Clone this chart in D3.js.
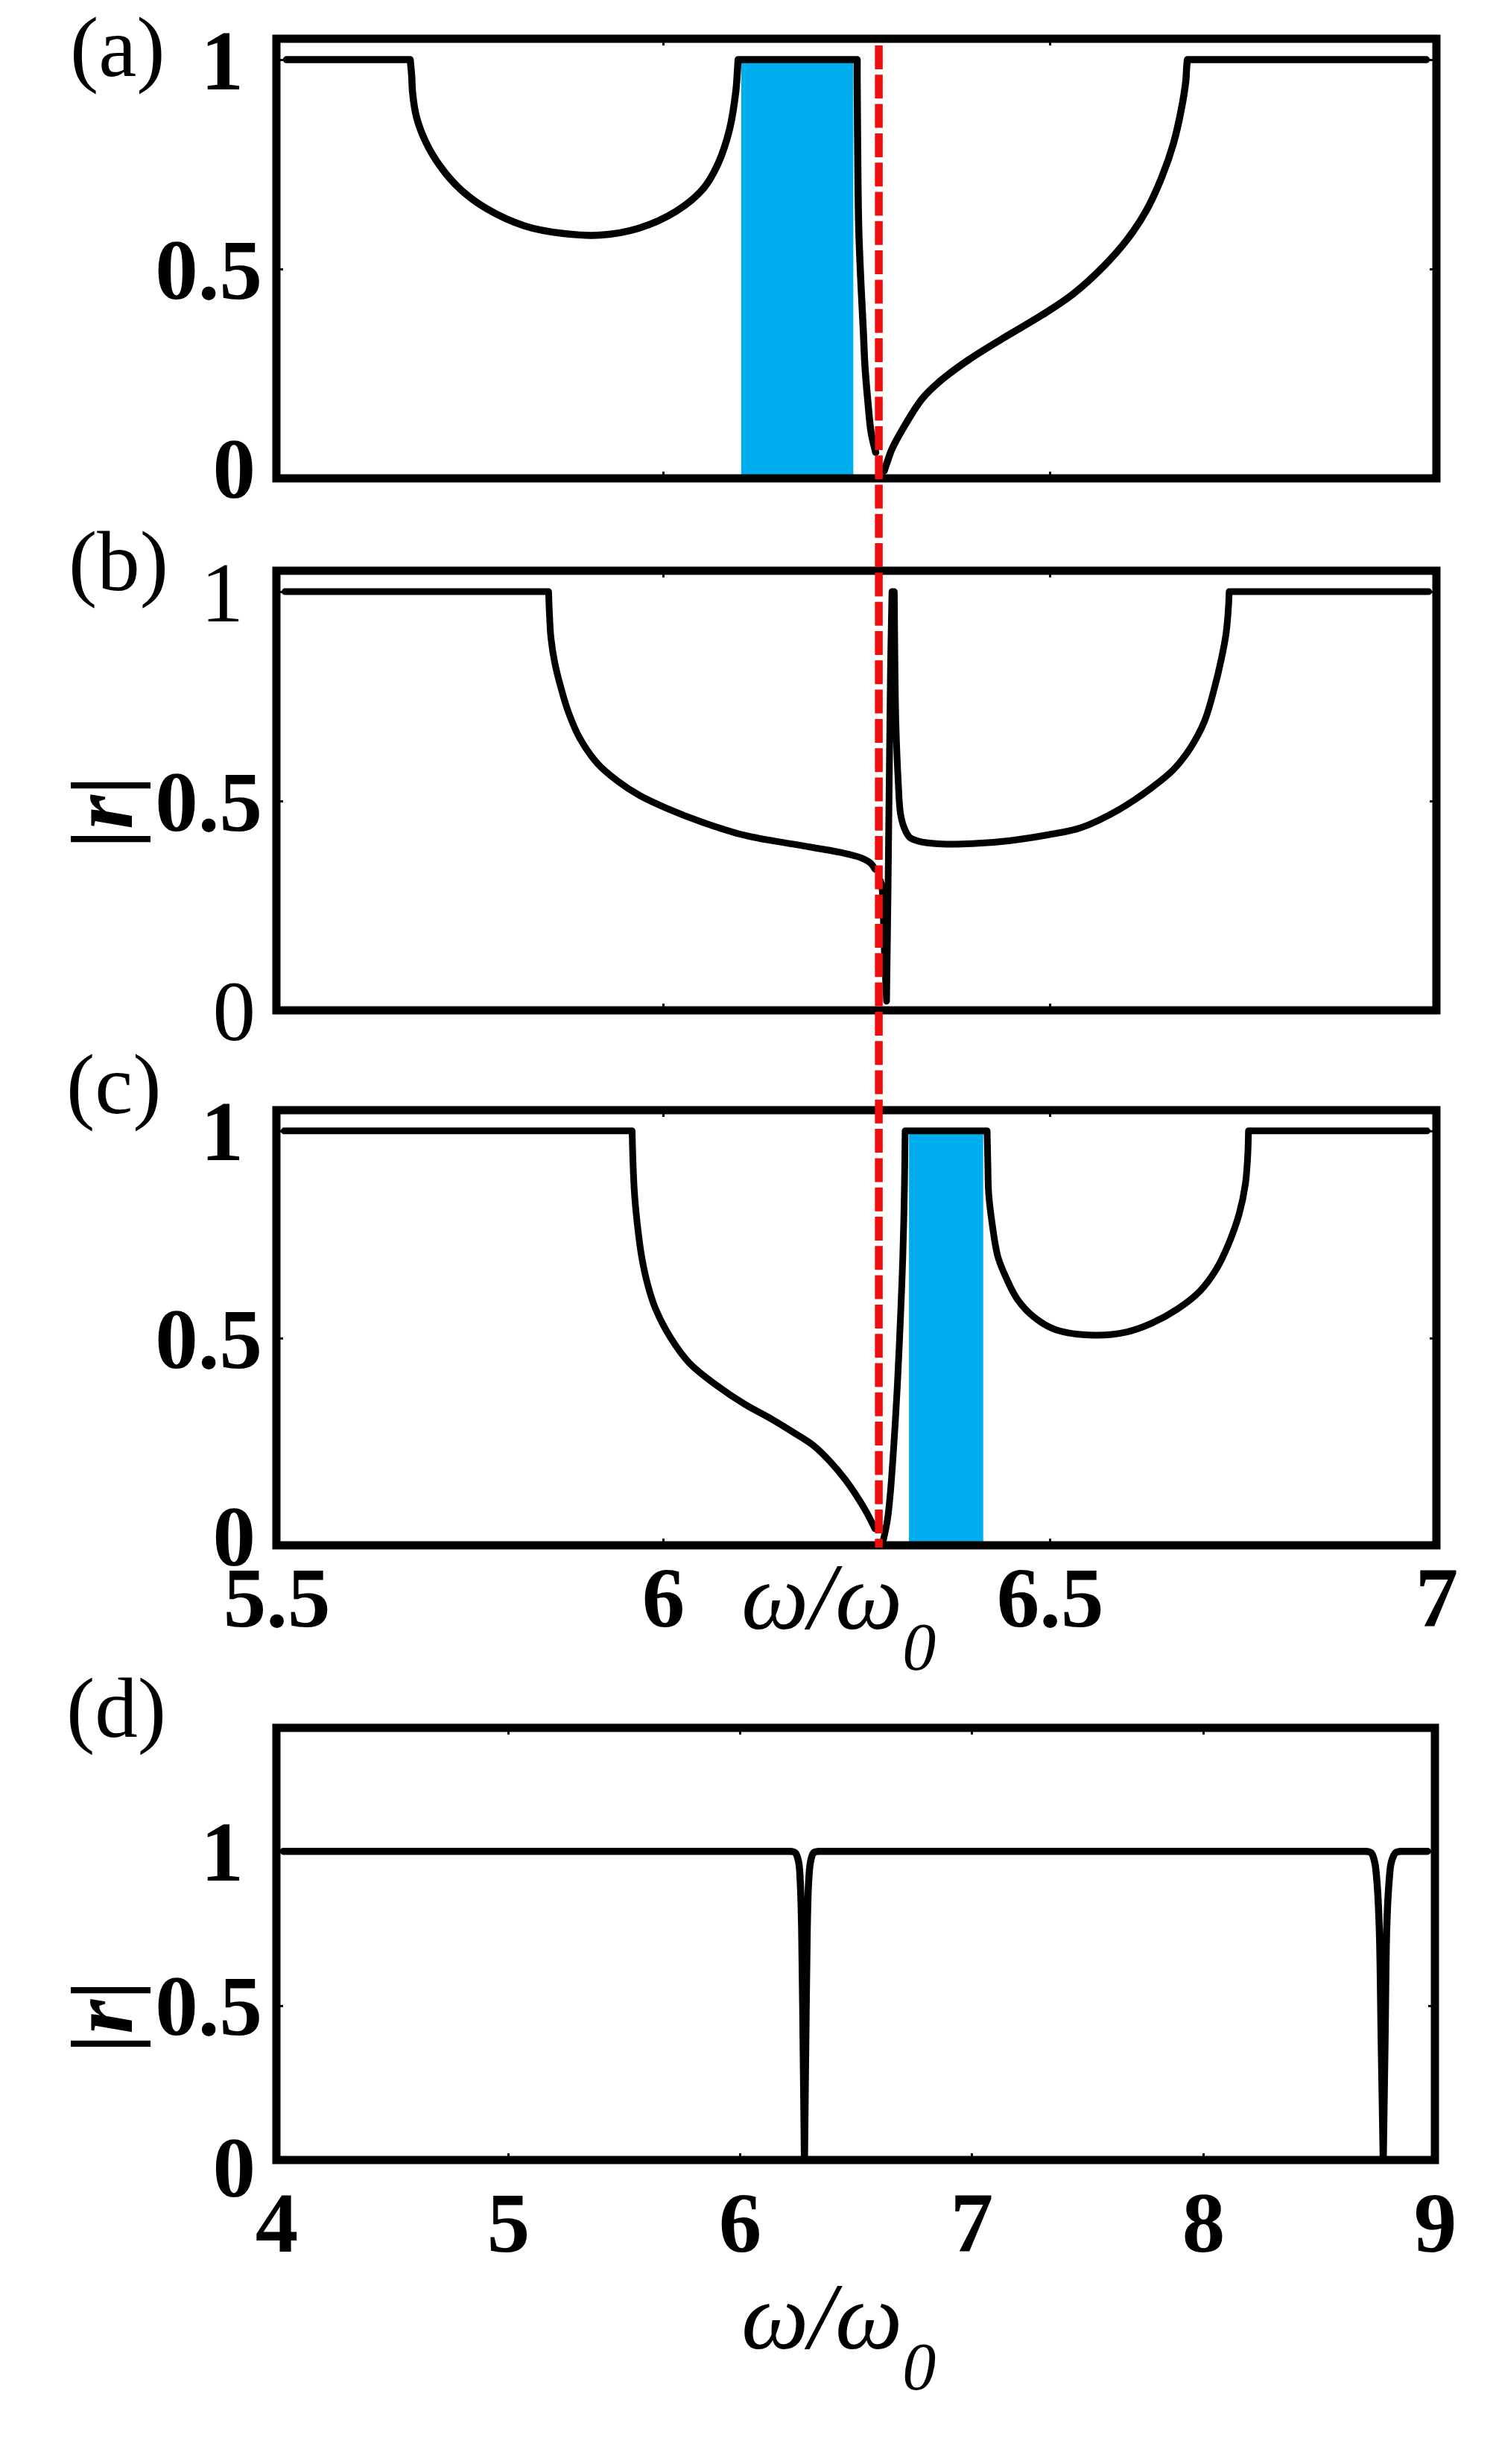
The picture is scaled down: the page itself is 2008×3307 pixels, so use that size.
<!DOCTYPE html>
<html><head><meta charset="utf-8">
<script src="https://cdn.jsdelivr.net/npm/d3@7"></script>
<style>html,body{margin:0;padding:0;background:#fff;} svg{display:block;}</style>
</head><body>
<svg id="chart" width="2008" height="3307"></svg>
<script>
// ---------------- DATA ----------------
const xTicksZoom = [5.5, 6, 6.5, 7];
const xTicksWide = [4, 5, 6, 7, 8, 9];
const yTicks = [0, 0.5, 1];
const yTickText = {0: "0", 0.5: "0.5", 1: "1"};

// panel (a) |r| vs w/w0
const curveA1 = [[5.513,1],[5.673,1],[5.675,0.96],[5.676,0.923],[5.681,0.864],[5.693,0.804],[5.712,0.745],[5.737,0.692],[5.772,0.644],[5.821,0.603],[5.870,0.585],[5.919,0.581],[5.968,0.597],[6.017,0.638],[6.052,0.692],[6.071,0.751],[6.086,0.834],[6.094,0.923],[6.096,0.97],[6.097,1],[6.251,1],[6.251,0.95],[6.2515,0.82],[6.253,0.6],[6.256,0.46],[6.259,0.35],[6.261,0.27],[6.265,0.18],[6.269,0.11],[6.275,0.062]];
const curveA2 = [[6.286,0.018],[6.291,0.045],[6.296,0.07],[6.31,0.118],[6.335,0.19],[6.36,0.235],[6.395,0.283],[6.44,0.335],[6.49,0.39],[6.53,0.44],[6.57,0.507],[6.60,0.57],[6.625,0.64],[6.645,0.72],[6.66,0.80],[6.67,0.88],[6.676,0.95],[6.677,0.98],[6.678,1],[6.987,1]];
const bandA = [6.101, 6.246];

// panel (b)
const curveB1 = [[5.511,1],[5.852,1],[5.853,0.95],[5.855,0.89],[5.86,0.83],[5.868,0.77],[5.878,0.71],[5.892,0.651],[5.915,0.59],[5.941,0.548],[5.97,0.513],[6.003,0.484],[6.05,0.45],[6.106,0.418],[6.168,0.397],[6.23,0.377],[6.255,0.365],[6.268,0.352],[6.274,0.337]];
const curveB2 = [[6.281,0.31],[6.283,0.295],[6.286,0.15],[6.289,0.022],[6.291,0.30],[6.294,0.8],[6.296,1.0],[6.299,1.0],[6.300,0.80],[6.301,0.69],[6.304,0.55],[6.307,0.47],[6.312,0.435],[6.319,0.413],[6.335,0.402],[6.366,0.397],[6.40,0.398],[6.447,0.405],[6.50,0.42],[6.54,0.436],[6.59,0.48],[6.632,0.532],[6.66,0.575],[6.682,0.627],[6.70,0.69],[6.713,0.77],[6.722,0.84],[6.728,0.90],[6.731,0.96],[6.732,1],[6.99,1]];

// panel (c)
const curveC1 = [[5.51,1],[5.96,1],[5.961,0.93],[5.963,0.85],[5.967,0.77],[5.972,0.70],[5.98,0.63],[5.99,0.572],[6.01,0.50],[6.034,0.44],[6.07,0.385],[6.106,0.34],[6.14,0.305],[6.168,0.273],[6.195,0.24],[6.217,0.20],[6.235,0.16],[6.25,0.12],[6.263,0.08],[6.274,0.04]];
const curveC2 = [[6.285,0.014],[6.29,0.06],[6.294,0.128],[6.299,0.26],[6.303,0.387],[6.307,0.55],[6.31,0.696],[6.312,0.85],[6.313,1],[6.419,1],[6.42,0.92],[6.421,0.85],[6.426,0.77],[6.433,0.696],[6.445,0.64],[6.458,0.594],[6.48,0.55],[6.508,0.52],[6.558,0.507],[6.60,0.515],[6.632,0.536],[6.665,0.57],[6.694,0.613],[6.715,0.665],[6.731,0.726],[6.745,0.80],[6.753,0.872],[6.756,0.94],[6.757,1],[6.988,1]];
const bandC = [6.318, 6.414];

// panel (d)
const curveD = [[4.03,1],[6.22,1],[6.24,0.995],[6.254,0.965],[6.261,0.9],[6.267,0.75],[6.273,0.4],[6.279,0],[6.285,0.4],[6.291,0.75],[6.297,0.9],[6.305,0.965],[6.318,0.995],[6.34,1],[8.70,1],[8.725,0.995],[8.74,0.965],[8.75,0.9],[8.76,0.75],[8.768,0.4],[8.777,0],[8.785,0.4],[8.792,0.75],[8.802,0.9],[8.812,0.965],[8.83,0.995],[8.85,1],[8.968,1]];

const markerX = 6.279;   // red dashed line

// ---------------- LAYOUT ----------------
const FONT = "'Liberation Serif','Times New Roman',serif";
const svg = d3.select("#chart");
svg.append("rect").attr("width",2008).attr("height",3307).attr("fill","#fff");

const panels = [
  {label:"(a)", lab:[94,102],  xd:[5.5,7], yd:[0,1.05], xr:[371,1928], yr:[642,52], zeroDy:-14, lw:9.5,
   series:[curveA1,curveA2], band:bandA, xlabels:false, ylab:false, thinLabels:[]},
  {label:"(b)", lab:[92,792], xd:[5.5,7], yd:[0,1.05], xr:[371,1928], yr:[1356,766], zeroDy:0, lw:9,
   series:[curveB1,curveB2], band:null, xlabels:false, ylab:true, thinLabels:[0,1]},
  {label:"(c)", lab:[89,1494], xd:[5.5,7], yd:[0,1.05], xr:[371,1928], yr:[2074,1490], zeroDy:-13, lw:9,
   series:[curveC1,curveC2], band:bandC, xlabels:true, xticks:xTicksZoom, ylab:false, thinLabels:[], xlabBase:2183, xtitle:[995,2186]},
  {label:"(d)", lab:[89,2331], xd:[4,9], yd:[0,1.4], xr:[371,1926], yr:[2899,2319], zeroDy:9, lw:9.5,
   series:[curveD], band:null, xlabels:true, xticks:xTicksWide, ylab:true, thinLabels:[], xlabBase:3022, xtitle:[995,3152]}
];
const yLabDx = {0:-9, 0.5:0, 1:-25};

// smooth path that keeps sharp corners and straight flat runs
function cornerPath(pts) {
  const runs = []; let cur = [pts[0]];
  const flat = i => Math.abs(pts[i+1][1] - pts[i][1]) < 1e-6; // segment i -> i+1
  for (let i = 1; i < pts.length; i++) {
    cur.push(pts[i]);
    if (i < pts.length - 1) {
      const a = [pts[i][0]-pts[i-1][0], pts[i][1]-pts[i-1][1]];
      const b = [pts[i+1][0]-pts[i][0], pts[i+1][1]-pts[i][1]];
      const c = (a[0]*b[0]+a[1]*b[1]) / (Math.hypot(...a)*Math.hypot(...b) || 1);
      if (c < 0.5 || flat(i-1) !== flat(i)) { runs.push(cur); cur = [pts[i]]; }
    }
  }
  runs.push(cur);
  const gen = d3.line().curve(d3.curveCatmullRom.alpha(0.5));
  return runs.map(r => gen(r)).join("");
}

panels.forEach(p => {
  const x = d3.scaleLinear().domain(p.xd).range(p.xr);
  const y = d3.scaleLinear().domain(p.yd).range(p.yr);
  p.x = x; p.y = y;
  const g = svg.append("g");
  const ticks = p.xticks || xTicksZoom;

  if (p.band) {
    g.append("rect").attr("x", x(p.band[0])).attr("y", y(1))
      .attr("width", x(p.band[1]) - x(p.band[0])).attr("height", y(0) - y(1))
      .attr("fill", "#00aeef");
  }
  const axB = g.append("g").attr("transform",`translate(0,${p.yr[0]})`)
     .call(d3.axisBottom(x).tickValues(ticks).tickSize(-9).tickFormat(""));
  const axT = g.append("g").attr("transform",`translate(0,${p.yr[1]})`)
     .call(d3.axisTop(x).tickValues(ticks).tickSize(-9).tickFormat(""));
  const axL = g.append("g").attr("transform",`translate(${p.xr[0]},0)`)
     .call(d3.axisLeft(y).tickValues(yTicks).tickSize(-9).tickPadding(19).tickFormat(d=>yTickText[d]));
  const axR = g.append("g").attr("transform",`translate(${p.xr[1]},0)`)
     .call(d3.axisRight(y).tickValues(yTicks).tickSize(-9).tickFormat(""));
  [axB,axT,axL,axR].forEach(a => {
    a.select(".domain").remove();
    a.selectAll(".tick line").attr("stroke","#000").attr("stroke-width",3);
  });
  axL.selectAll("text")
     .attr("font-family", FONT).attr("font-size", 115)
     .attr("font-weight", d => p.thinLabels.includes(d) ? "normal" : "bold")
     .attr("fill","#000")
     .attr("x", d => -19 + yLabDx[d])
     .attr("y", d => d === 0 ? p.zeroDy : 0)
     .attr("dy","0.34em");

  if (p.xlabels) {
    const axL2 = g.append("g").attr("transform",`translate(0,${p.yr[0]})`)
      .call(d3.axisBottom(x).tickValues(ticks).tickSize(0).tickFormat(d=>String(d)));
    axL2.select(".domain").remove();
    axL2.selectAll("text").attr("font-family",FONT).attr("font-size",115).attr("font-weight","bold")
      .attr("fill","#000").attr("y", p.xlabBase - p.yr[0]).attr("dy", null);
    const t = svg.append("text").attr("x", p.xtitle[0]).attr("y", p.xtitle[1])
      .attr("font-family", FONT).attr("font-style","italic").attr("font-size",128).attr("fill","#000");
    t.append("tspan").text("ω/ω");
    t.append("tspan").attr("font-size",90).attr("dy",55).text("0");
  }

  p.series.forEach(s => {
    const pts = s.map(d => [x(d[0]), y(d[1])]);
    g.append("path").attr("d", cornerPath(pts)).attr("fill","none")
      .attr("stroke","#000").attr("stroke-width",p.lw)
      .attr("stroke-linejoin","round").attr("stroke-linecap","round");
  });

  g.append("rect").attr("x", p.xr[0]).attr("y", p.yr[1])
    .attr("width", p.xr[1]-p.xr[0]).attr("height", p.yr[0]-p.yr[1])
    .attr("fill","none").attr("stroke","#000").attr("stroke-width",11);

  svg.append("text").attr("x", p.lab[0]).attr("y", p.lab[1])
    .attr("font-family", FONT).attr("font-size", 115).attr("fill","#000").text(p.label);

  if (p.ylab) {
    const cy = y(0.5);
    const tl = svg.append("text")
      .attr("transform", `translate(143,${cy + 15}) rotate(-90)`)
      .attr("text-anchor","middle").attr("dy","0.29em")
      .attr("font-family", FONT).attr("font-size",118).attr("font-weight","bold").attr("fill","#000");
    tl.append("tspan").text("|");
    tl.append("tspan").attr("font-style","italic").text("r");
    tl.append("tspan").text("|");
  }
});

// red dashed marker line spanning panels a-c
const xa = panels[0].x;
svg.append("line")
  .attr("x1", xa(markerX)).attr("x2", xa(markerX))
  .attr("y1", panels[0].yr[1] + 9).attr("y2", panels[2].yr[0] + 3)
  .attr("stroke", "#f00d0d").attr("stroke-width", 10.5)
  .attr("stroke-dasharray", "32,7.3");
</script>
</body></html>
